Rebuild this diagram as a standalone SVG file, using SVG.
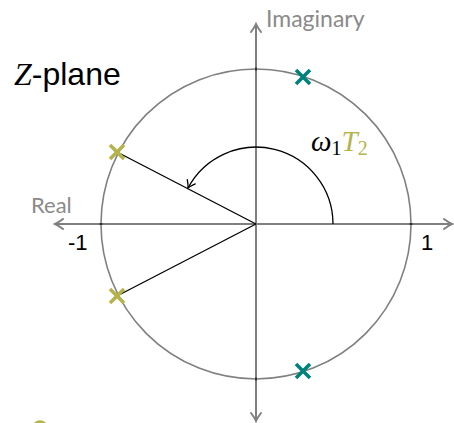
<svg xmlns="http://www.w3.org/2000/svg" width="454" height="423" viewBox="0 0 454 423">
<style>
.axis{stroke:#808080;stroke-width:2;fill:none}
.circ{stroke:#808080;stroke-width:1.6;fill:none}
.ray{stroke:#000;stroke-width:1.3;fill:none}
.tick{stroke:#000;stroke-width:1.2}
.pole{stroke-width:3.6;fill:none}
.olive{stroke:#b5b34c}
.teal{stroke:#00827c}
.lbl{font-family:Lato,"Liberation Sans",sans-serif;fill:#8a8a8a}
.num{font-family:"Liberation Sans",sans-serif;fill:#000}
.math{font-family:"Liberation Serif",serif;font-style:italic}
</style>
<defs>
<marker id="ga" viewBox="-10 -6 12 12" refX="0" refY="0" markerWidth="12" markerHeight="12" markerUnits="userSpaceOnUse" orient="auto">
<path d="M-8,-5 Q-3,-1.2 0,0 Q-3,1.2 -8,5" stroke="#808080" stroke-width="2" fill="none" stroke-linecap="round"/>
</marker>
<marker id="ba" viewBox="-10 -6 12 12" refX="0" refY="0" markerWidth="12" markerHeight="12" markerUnits="userSpaceOnUse" orient="auto">
<path d="M-7,-4.5 Q-2.5,-1 0,0 Q-2.5,1 -7,4.5" stroke="#000" stroke-width="1.3" fill="none" stroke-linecap="round"/>
</marker>
</defs>
<g id="connectors">
<line class="axis" x1="256" y1="224" x2="55" y2="224" marker-end="url(#ga)"/>
<line class="axis" x1="256" y1="224" x2="452" y2="224" marker-end="url(#ga)"/>
<line class="axis" x1="256" y1="224" x2="256" y2="24" marker-end="url(#ga)"/>
<line class="axis" x1="256" y1="224" x2="256" y2="421" marker-end="url(#ga)"/>
<line class="ray" x1="256" y1="224" x2="117" y2="152"/>
<line class="ray" x1="256" y1="224" x2="117" y2="296"/>
<path class="ray" d="M333,224 A77,77 0 0 0 188,188" marker-end="url(#ba)"/>
</g>
<g id="unit-circle">
<circle class="circ" cx="256" cy="224" r="155"/>
<line class="tick" x1="256" y1="67.5" x2="256" y2="70.5"/>
<line class="tick" x1="256" y1="377.5" x2="256" y2="380.5"/>
<line class="tick" x1="99.5" y1="224" x2="102.5" y2="224"/>
<line class="tick" x1="409.5" y1="224" x2="412.5" y2="224"/>
</g>
<g id="pole-olive-1"><path class="pole olive" d="M110,145 L124,159 M124,145 L110,159"/></g>
<g id="pole-olive-2"><path class="pole olive" d="M110,289 L124,303 M124,289 L110,303"/></g>
<g id="pole-teal-1"><path class="pole teal" d="M296,70 L310,84 M310,70 L296,84"/></g>
<g id="pole-teal-2"><path class="pole teal" d="M296,364 L310,378 M310,364 L296,378"/></g>
<g id="zero-olive"><circle class="pole olive" cx="40" cy="428" r="6"/></g>
<g id="labels">
<text x="14" y="85" font-size="32"><tspan class="math" font-family="Liberation Serif,serif">Z</tspan><tspan font-family="Liberation Sans,sans-serif">-plane</tspan></text>
<text class="lbl" x="266" y="27" font-size="23">Imaginary</text>
<text class="lbl" x="31" y="213" font-size="22">Real</text>
<text class="num" x="68" y="250" font-size="22">-1</text>
<text class="num" x="421" y="250" font-size="22">1</text>
<text x="311" y="151" font-size="29" class="math"><tspan fill="#000">ω</tspan><tspan fill="#000" font-style="normal" font-size="20" dy="4">1</tspan><tspan fill="#b5b34c" dy="-4">T</tspan><tspan fill="#b5b34c" font-style="normal" font-size="20" dy="4">2</tspan></text>
</g>
</svg>
